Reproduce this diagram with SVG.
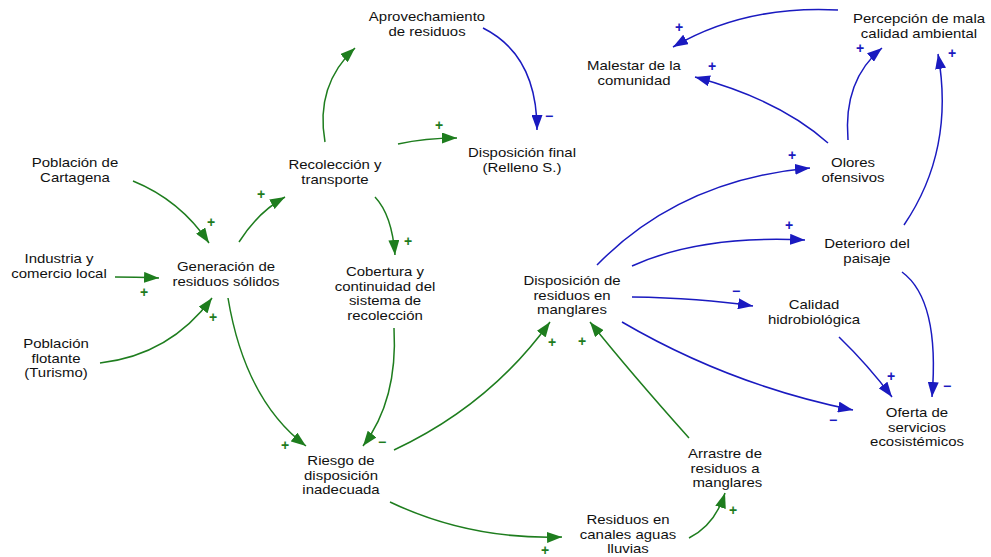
<svg xmlns="http://www.w3.org/2000/svg" width="991" height="557" viewBox="0 0 991 557">
<style>
.lbl{font-family:"Liberation Sans",Arial,sans-serif;font-size:13px;fill:#111;text-anchor:middle}
.g{fill:none;stroke:#1e7d1e;stroke-width:1.5}
.b{fill:none;stroke:#1a1ac0;stroke-width:1.5}
.sg{font-family:"Liberation Sans",Arial,sans-serif;font-size:14px;font-weight:bold;fill:#1e7d1e;text-anchor:middle}
.sb{font-family:"Liberation Sans",Arial,sans-serif;font-size:14px;font-weight:bold;fill:#1a1ac0;text-anchor:middle}
</style>
<defs>
<marker id="ag" markerUnits="userSpaceOnUse" markerWidth="16" markerHeight="11" refX="15" refY="5.5" orient="auto"><path d="M0,0 L15,5.5 L0,11 z" fill="#1e7d1e"/></marker>
<marker id="ab" markerUnits="userSpaceOnUse" markerWidth="16" markerHeight="11" refX="15" refY="5.5" orient="auto"><path d="M0,0 L15,5.5 L0,11 z" fill="#1a1ac0"/></marker>
</defs>
<rect width="991" height="557" fill="#fff"/>
<g id="connectors">
<path class="g" marker-end="url(#ag)" d="M133,181 Q180,200 209,243"/>
<path class="g" marker-end="url(#ag)" d="M115,277 Q135,277 159,278"/>
<path class="g" marker-end="url(#ag)" d="M100,363 Q170,355 212,298"/>
<path class="g" marker-end="url(#ag)" d="M239,242 Q258,212 285,197"/>
<path class="g" marker-end="url(#ag)" d="M325,142 Q315,85 355,48"/>
<path class="b" marker-end="url(#ab)" d="M483,28 Q537,55 537,130"/>
<path class="g" marker-end="url(#ag)" d="M398,144 Q425,138 457,138"/>
<path class="g" marker-end="url(#ag)" d="M375,197 Q392,215 395,255"/>
<path class="g" marker-end="url(#ag)" d="M228,298 Q245,400 306,446"/>
<path class="g" marker-end="url(#ag)" d="M394,328 Q398,400 363,446"/>
<path class="g" marker-end="url(#ag)" d="M394,450 Q490,405 550,322"/>
<path class="g" marker-end="url(#ag)" d="M689,438 Q630,372 590,322"/>
<path class="g" marker-end="url(#ag)" d="M390,502 Q470,540 562,537"/>
<path class="g" marker-end="url(#ag)" d="M689,538 Q715,525 725,493"/>
<path class="b" marker-end="url(#ab)" d="M597,265 Q680,180 810,168"/>
<path class="b" marker-end="url(#ab)" d="M632,266 Q700,235 805,240"/>
<path class="b" marker-end="url(#ab)" d="M632,297 Q700,298 753,306"/>
<path class="b" marker-end="url(#ab)" d="M622,322 Q730,385 853,410"/>
<path class="b" marker-end="url(#ab)" d="M839,337 Q868,365 892,397"/>
<path class="b" marker-end="url(#ab)" d="M902,272 Q940,300 932,397"/>
<path class="b" marker-end="url(#ab)" d="M904,225 Q955,150 938,54"/>
<path class="b" marker-end="url(#ab)" d="M848,140 Q843,80 882,48"/>
<path class="b" marker-end="url(#ab)" d="M828,143 Q780,100 695,77"/>
<path class="b" marker-end="url(#ab)" d="M838,10 Q745,5 673,47"/>
<text class="sg" x="211" y="227">+</text>
<text class="sg" x="144" y="297">+</text>
<text class="sg" x="213" y="322">+</text>
<text class="sg" x="261" y="199">+</text>
<text class="sb" x="549" y="121">−</text>
<text class="sg" x="439" y="130">+</text>
<text class="sg" x="408" y="246">+</text>
<text class="sg" x="285" y="450">+</text>
<text class="sg" x="382" y="447">−</text>
<text class="sg" x="552" y="347">+</text>
<text class="sg" x="582" y="346">+</text>
<text class="sg" x="545" y="555">+</text>
<text class="sg" x="733" y="515">+</text>
<text class="sb" x="792" y="160">+</text>
<text class="sb" x="789" y="230">+</text>
<text class="sb" x="736" y="296">−</text>
<text class="sb" x="833" y="425">−</text>
<text class="sb" x="891" y="381">+</text>
<text class="sb" x="947" y="391">−</text>
<text class="sb" x="952" y="58">+</text>
<text class="sb" x="860" y="53">+</text>
<text class="sb" x="712" y="71">+</text>
<text class="sb" x="679" y="32">+</text>
</g>
<g id="n-aprovechamiento"><text class="lbl" transform="translate(427,21) scale(1.15,1)">Aprovechamiento<tspan x="0" dy="14.6">de residuos</tspan></text></g>
<g id="n-disposicion-final"><text class="lbl" transform="translate(522,157) scale(1.15,1)">Disposición final<tspan x="0" dy="14.6">(Relleno S.)</tspan></text></g>
<g id="n-recoleccion"><text class="lbl" transform="translate(335,169) scale(1.15,1)">Recolección y<tspan x="0" dy="14.6">transporte</tspan></text></g>
<g id="n-poblacion-cartagena"><text class="lbl" transform="translate(75,167) scale(1.15,1)">Población de<tspan x="0" dy="14.6">Cartagena</tspan></text></g>
<g id="n-generacion"><text class="lbl" transform="translate(226,271) scale(1.15,1)">Generación de<tspan x="0" dy="14.6">residuos sólidos</tspan></text></g>
<g id="n-industria"><text class="lbl" transform="translate(59,263) scale(1.15,1)">Industria y<tspan x="0" dy="14.6">comercio local</tspan></text></g>
<g id="n-poblacion-flotante"><text class="lbl" transform="translate(56,348) scale(1.15,1)">Población<tspan x="0" dy="14.6">flotante</tspan><tspan x="0" dy="14.6">(Turismo)</tspan></text></g>
<g id="n-cobertura"><text class="lbl" transform="translate(385,276) scale(1.15,1)">Cobertura y<tspan x="0" dy="14.6">continuidad del</tspan><tspan x="0" dy="14.6">sistema de</tspan><tspan x="0" dy="14.6">recolección</tspan></text></g>
<g id="n-disposicion-manglares"><text class="lbl" transform="translate(572,285) scale(1.15,1)">Disposición de<tspan x="0" dy="14.6">residuos en</tspan><tspan x="0" dy="14.6">manglares</tspan></text></g>
<g id="n-riesgo"><text class="lbl" transform="translate(341,465) scale(1.15,1)">Riesgo de<tspan x="0" dy="14.6">disposición</tspan><tspan x="0" dy="14.6">inadecuada</tspan></text></g>
<g id="n-residuos-canales"><text class="lbl" transform="translate(628,524) scale(1.15,1)">Residuos en<tspan x="0" dy="14.6">canales aguas</tspan><tspan x="0" dy="14.6">lluvias</tspan></text></g>
<g id="n-arrastre"><text class="lbl" transform="translate(725,458) scale(1.15,1)">Arrastre de<tspan x="0" dy="14.6">residuos a</tspan><tspan x="2" dy="14.6">manglares</tspan></text></g>
<g id="n-malestar"><text class="lbl" transform="translate(634,70) scale(1.15,1)">Malestar de la<tspan x="0" dy="14.6">comunidad</tspan></text></g>
<g id="n-percepcion"><text class="lbl" transform="translate(919,23) scale(1.15,1)">Percepción de mala<tspan x="0" dy="14.6">calidad ambiental</tspan></text></g>
<g id="n-olores"><text class="lbl" transform="translate(853,167) scale(1.15,1)">Olores<tspan x="0" dy="14.6">ofensivos</tspan></text></g>
<g id="n-deterioro"><text class="lbl" transform="translate(867,248) scale(1.15,1)">Deterioro del<tspan x="0" dy="14.6">paisaje</tspan></text></g>
<g id="n-calidad"><text class="lbl" transform="translate(814,309) scale(1.15,1)">Calidad<tspan x="0" dy="14.6">hidrobiológica</tspan></text></g>
<g id="n-oferta"><text class="lbl" transform="translate(917,417) scale(1.15,1)">Oferta de<tspan x="0" dy="14.6">servicios</tspan><tspan x="0" dy="14.6">ecosistémicos</tspan></text></g>
</svg>
